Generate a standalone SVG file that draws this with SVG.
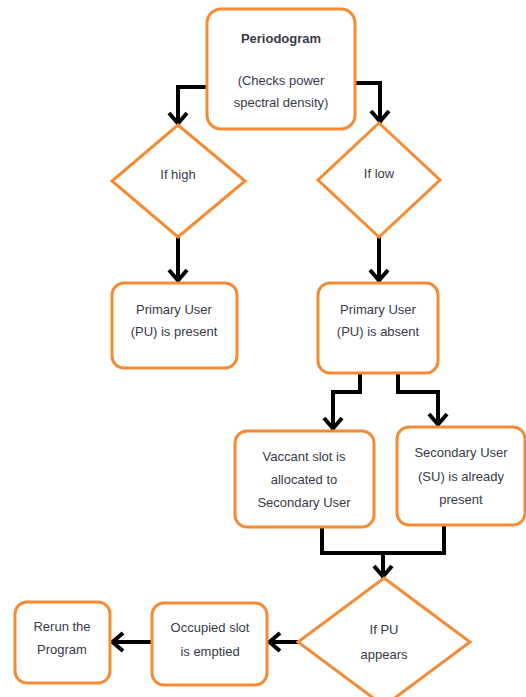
<svg xmlns="http://www.w3.org/2000/svg" width="526" height="697" viewBox="0 0 526 697">
<style>
.box{fill:#fff;stroke:#F58B34;stroke-width:3}
.t{font-family:"Liberation Sans",Arial,sans-serif;font-size:13px;fill:#3a3a48;text-anchor:middle}
.b{font-weight:bold}
.c{fill:none;stroke:#000;stroke-width:4;stroke-linejoin:miter}
</style>
<defs>
<marker id="ah" markerUnits="userSpaceOnUse" viewBox="-16 -12 18 24" refX="0" refY="0" markerWidth="18" markerHeight="24" orient="auto">
<path d="M-12,-9 L-1.5,0 L-12,9" fill="none" stroke="#000" stroke-width="4"/>
</marker>
</defs>
<rect width="526" height="697" fill="#fff"/>
<g id="connectors">
<path class="c" d="M207,87 H178 V125" marker-end="url(#ah)"/>
<path class="c" d="M355,83 H380 V123" marker-end="url(#ah)"/>
<path class="c" d="M178,237 V282" marker-end="url(#ah)"/>
<path class="c" d="M379,237 V282" marker-end="url(#ah)"/>
<path class="c" d="M360,373 V392 H333 V430" marker-end="url(#ah)"/>
<path class="c" d="M398,373 V392 H438 V426" marker-end="url(#ah)"/>
<path class="c" d="M322,527 V553 H444 V525"/>
<path class="c" d="M383,553 V578" marker-end="url(#ah)"/>
<path class="c" d="M298,642 H268" marker-end="url(#ah)"/>
<path class="c" d="M152,642 H111" marker-end="url(#ah)"/>
</g>
<g id="periodogram">
<rect class="box" x="207" y="9" width="148" height="120" rx="14"/>
<text class="t b" x="281" y="43">Periodogram</text>
<text class="t" x="281" y="85">(Checks power</text>
<text class="t" x="281" y="107">spectral density)</text>
</g>
<g id="if-high">
<polygon class="box" points="178,125 245,181 178,237 112,181"/>
<text class="t" x="178" y="179">If high</text>
</g>
<g id="if-low">
<polygon class="box" points="379,123 440,180 379,237 318,180"/>
<text class="t" x="379" y="178">If low</text>
</g>
<g id="pu-present">
<rect class="box" x="112" y="283" width="125" height="85" rx="12"/>
<text class="t" x="174" y="314">Primary User</text>
<text class="t" x="174" y="336">(PU) is present</text>
</g>
<g id="pu-absent">
<rect class="box" x="318" y="283" width="120" height="90" rx="12"/>
<text class="t" x="378" y="314">Primary User</text>
<text class="t" x="378" y="336">(PU) is absent</text>
</g>
<g id="vacant">
<rect class="box" x="235" y="431" width="139" height="96" rx="12"/>
<text class="t" x="304" y="461">Vaccant slot is</text>
<text class="t" x="304" y="484">allocated to</text>
<text class="t" x="304" y="507">Secondary User</text>
</g>
<g id="su-present">
<rect class="box" x="397" y="427" width="128" height="98" rx="12"/>
<text class="t" x="461" y="457">Secondary User</text>
<text class="t" x="461" y="481">(SU) is already</text>
<text class="t" x="461" y="504">present</text>
</g>
<g id="if-pu">
<polygon class="box" points="384,578 470,642 384,706 298,642"/>
<text class="t" x="384" y="634">If PU</text>
<text class="t" x="384" y="659">appears</text>
</g>
<g id="occupied">
<rect class="box" x="152" y="603" width="115" height="82" rx="12"/>
<text class="t" x="210" y="632">Occupied slot</text>
<text class="t" x="210" y="656">is emptied</text>
</g>
<g id="rerun">
<rect class="box" x="15" y="602" width="95" height="81" rx="12"/>
<text class="t" x="62" y="631">Rerun the</text>
<text class="t" x="62" y="654">Program</text>
</g>
</svg>
